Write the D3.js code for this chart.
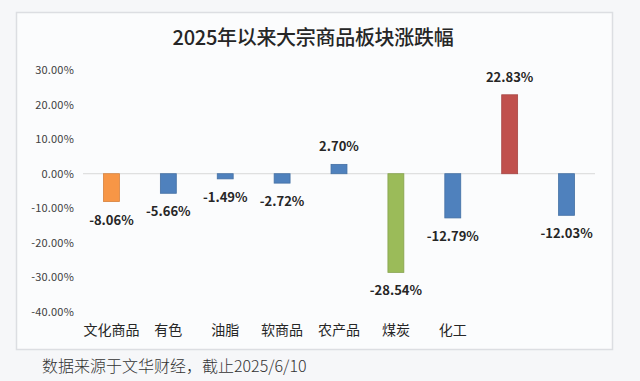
<!DOCTYPE html>
<html>
<head>
<meta charset="utf-8">
<script src="https://cdn.jsdelivr.net/npm/d3@7/dist/d3.min.js"></script>
<style>
  html, body { margin: 0; padding: 0; background: #f6f7f9; }
  svg { display: block; }
  text { font-family: 'Noto Sans CJK SC', 'DejaVu Sans', sans-serif; }
</style>
</head>
<body>
<svg width="640" height="381"></svg>
<script>
// data
const categories = ['文化商品', '有色', '油脂', '软商品', '农产品', '煤炭', '化工', '', ' ']
const values = [-8.06, -5.66, -1.49, -2.72, 2.70, -28.54, -12.79, 22.83, -12.03]
const barColors = ['#f79646', '#4f81bd', '#4f81bd', '#4f81bd', '#4f81bd', '#9bbb59', '#4f81bd', '#c0504d', '#4f81bd']
const yTicks = [30, 20, 10, 0, -10, -20, -30, -40]
const title = '2025年以来大宗商品板块涨跌幅'
const source = '数据来源于文华财经，截止2025/6/10'

// excel style percent, plain hyphen for minus
const pct = d => d.toFixed(2) + '%'

const svg = d3.select('svg')

// chart box
svg.append('rect')
  .attr('x', 16.5).attr('y', 12.5)
  .attr('width', 596).attr('height', 337)
  .attr('fill', '#fbfcfd')
  .attr('stroke', '#dcdee2')
  .attr('stroke-width', 1.5)

svg.append('text')
  .attr('x', 313)
  .attr('y', 45)
  .attr('text-anchor', 'middle')
  .attr('fill', '#262626')
  .attr('font-size', 20)
  .attr('font-weight', 500)
  .attr('letter-spacing', -0.3)
  .text(title)

const x = d3.scaleBand()
  .domain(d3.range(categories.length))
  .range([83, 595])
  .paddingInner(0.72)
  .paddingOuter(0.36)

const y = d3.scaleLinear()
  .domain([-40, 30])
  .range([312, 70])

// zero line
svg.append('line')
  .attr('x1', 83).attr('x2', 595)
  .attr('y1', y(0)).attr('y2', y(0))
  .attr('stroke', '#d9d9d9')
  .attr('stroke-width', 1)

// y axis labels
const yAxis = d3.axisLeft(y)
  .tickValues(yTicks)
  .tickSize(0)
  .tickPadding(0)
  .tickFormat(pct)

svg.append('g')
  .attr('transform', 'translate(74,0)')
  .call(yAxis)
  .call(g => g.select('.domain').remove())
  .selectAll('text')
  .attr('font-family', "'DejaVu Sans', sans-serif")
  .attr('font-size', 11)
  .attr('letter-spacing', 0.2)
  .attr('fill', '#404040')

// bars
svg.append('g')
  .selectAll('rect')
  .data(values)
  .join('rect')
  .attr('x', (d, i) => x(i))
  .attr('y', d => y(Math.max(0, d)))
  .attr('width', x.bandwidth())
  .attr('height', d => Math.abs(y(d) - y(0)))
  .attr('fill', (d, i) => barColors[i])
  .attr('stroke', (d, i) => d3.color(barColors[i]).darker(0.4))
  .attr('stroke-width', 0.8)

// value labels
svg.append('g')
  .selectAll('text')
  .data(values)
  .join('text')
  .attr('x', (d, i) => x(i) + x.bandwidth() / 2)
  .attr('y', d => d >= 0 ? y(d) - 13 : y(d) + 23)
  .attr('text-anchor', 'middle')
  .attr('font-family', "'Open Sans', 'DejaVu Sans', sans-serif")
  .attr('font-size', 13)
  .attr('font-weight', 600)
  .attr('fill', '#262626')
  .text(pct)

// category labels
const xAxis = d3.axisBottom(x)
  .tickSize(0)
  .tickFormat(i => categories[i])

svg.append('g')
  .attr('transform', 'translate(0,322)')
  .call(xAxis)
  .call(g => g.select('.domain').remove())
  .selectAll('text')
  .attr('font-size', 14)
  .attr('fill', '#262626')

svg.append('text')
  .attr('x', 42)
  .attr('y', 372)
  .attr('fill', '#333')
  .attr('font-size', 16)
  .attr('font-weight', 300)
  .text(source)
</script>
</body>
</html>
